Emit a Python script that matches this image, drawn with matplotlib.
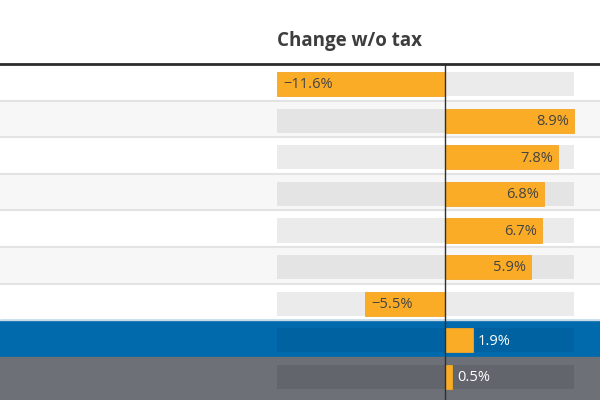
import matplotlib.pyplot as plt
import numpy as np

plt.rcParams['font.family'] = ['Open Sans', 'DejaVu Sans']

# Werte (Änderung ohne Steuer, in %)
values = [-11.6, 8.9, 7.8, 6.8, 6.7, 5.9, -5.5, 1.9, 0.5]
labels = ['−11.6%', '8.9%', '7.8%', '6.8%', '6.7%', '5.9%', '−5.5%', '1.9%', '0.5%']
row_kind = ['plain', 'alt', 'plain', 'alt', 'plain', 'alt', 'plain', 'blue', 'grey']
title = 'Change w/o tax'

# Farben je Zeilentyp: Hintergrund, Spur, Textfarbe für Label außerhalb
row_bg = {'plain': '#ffffff', 'alt': '#f7f7f7', 'blue': '#006aac', 'grey': '#6d7077'}
track_bg = {'plain': '#ebebeb', 'alt': '#e4e4e4', 'blue': '#0062a0', 'grey': '#62656c'}
out_text = {'plain': '#444444', 'alt': '#444444', 'blue': '#ffffff', 'grey': '#ffffff'}
bar_color = '#fbac27'

W, H = 600, 400
header_px = 64
row_px = 36.6
track_left_px, track_right_px = 277, 574

fig = plt.figure(figsize=(6, 4), dpi=100)
ax = fig.add_axes([0, 0, 1, (H - header_px) / H])

vmin, vmax = min(values), max(values)
scale = (track_right_px - track_left_px) / (vmax - vmin)
ax.set_xlim(vmin - track_left_px / scale, vmax + (W - track_right_px) / scale)
n_vis = (H - header_px) / row_px
ax.set_ylim(n_vis, 0)
ax.axis('off')

n = len(values)
for i, (v, lab, kind) in enumerate(zip(values, labels, row_kind)):
    top = i + 1 if i < n - 1 else n_vis
    ax.axhspan(i, top, color=row_bg[kind], zorder=0)
    if i > 0:
        prev = row_kind[i - 1]
        if prev in ('plain', 'alt'):
            sep = '#e3e3e3' if kind in ('plain', 'alt') else '#c9d9e6'
            ax.axhline(i, color=sep, lw=1.5 if kind in ('plain', 'alt') else 1, zorder=1)
    ax.barh(i + 0.55, vmax - vmin, left=vmin, height=0.66,
            color=track_bg[kind], zorder=2)
    ax.barh(i + 0.55, v, height=0.66, color=bar_color, edgecolor='#f4a623',
            lw=0.6, zorder=3)
    pad = 4 / scale
    if abs(v) > 3:
        if v < 0:
            ax.text(v + 1.5 * pad, i + 0.57, lab, ha='left', va='center',
                    fontsize=10.5, color='#444444', zorder=4)
        else:
            ax.text(v - 1.2 * pad, i + 0.57, lab, ha='right', va='center',
                    fontsize=10.5, color='#444444', zorder=4)
    else:
        ax.text(v + pad * 1.3, i + 0.57, lab, ha='left', va='center',
                fontsize=10.5, color=out_text[kind], zorder=4)

ax.axvline(0, color='#2f2f2f', lw=1, zorder=5)
ax.axhline(0, color='#2b2b2b', lw=2, zorder=6, clip_on=False)

fig.text(track_left_px / W, 1 - 41 / H, title, ha='left', va='center',
         fontsize=13.5, fontweight='bold', color='#3d3d3d')

fig.savefig('out.png', dpi=100)
